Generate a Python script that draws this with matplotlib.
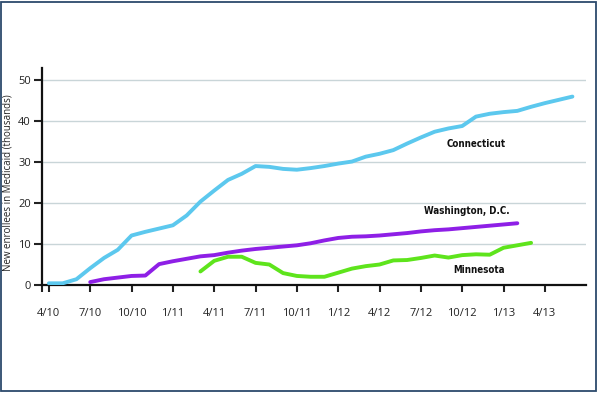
import matplotlib
matplotlib.use("Agg")
import matplotlib.pyplot as plt
from matplotlib.patches import Rectangle

# months counted from 4/10 (index 0)
tick_labels = ["4/10", "7/10", "10/10", "1/11", "4/11", "7/11", "10/11",
               "1/12", "4/12", "7/12", "10/12", "1/13", "4/13"]
tick_months = [0, 3, 6, 9, 12, 15, 18, 21, 24, 27, 30, 33, 36]

ct_start = 0
connecticut = [0.3, 0.3, 1.3, 4.0, 6.5, 8.5, 12.0, 12.9, 13.7, 14.5, 16.9,
               20.3, 23.0, 25.6, 27.1, 29.0, 28.8, 28.3, 28.1, 28.5, 29.0,
               29.6, 30.1, 31.3, 32.0, 32.9, 34.5, 36.0, 37.4, 38.2, 38.8,
               41.1, 41.8, 42.2, 42.5, 43.5, 44.4, 45.2, 46.0]

dc_start = 3
washington = [0.6, 1.3, 1.7, 2.1, 2.2, 5.0, 5.7, 6.3, 6.9, 7.2, 7.8, 8.3,
              8.7, 9.0, 9.3, 9.6, 10.1, 10.8, 11.4, 11.7, 11.8, 12.0, 12.3,
              12.6, 13.0, 13.3, 13.5, 13.8, 14.1, 14.4, 14.7, 15.0]

mn_start = 11
minnesota = [3.2, 5.8, 6.8, 6.8, 5.3, 4.9, 2.8, 2.1, 1.9, 1.9, 2.9, 3.9,
             4.5, 4.9, 5.9, 6.0, 6.5, 7.1, 6.6, 7.2, 7.4, 7.3, 9.0, 9.6, 10.2]

series = [
    ("Connecticut", ct_start, connecticut, "#5cc8ee", (31.0, 34.3)),
    ("Washington, D.C.", dc_start, washington, "#8e1fe6", (30.3, 18.0)),
    ("Minnesota", mn_start, minnesota, "#5ee41c", (31.2, 3.5)),
]

fig = plt.figure(figsize=(6, 3.93), dpi=100)
ax = fig.add_axes([0.07, 0.276, 0.907, 0.551])

for yv in [10, 20, 30, 40, 50]:
    ax.axhline(yv, color="#c9d5d8", lw=1.0, zorder=0)

for name, start, vals, color, (lx, ly) in series:
    xs = [start + i for i in range(len(vals))]
    ax.plot(xs, vals, color=color, lw=2.8, solid_capstyle="round", zorder=3)
    ax.text(lx, ly, name, ha="center", va="center", fontsize=7,
            fontweight="bold", fontstretch="condensed", color="#111111",
            family="DejaVu Sans")

ax.set_xlim(-0.5, 39)
ax.set_ylim(0, 53)
ax.set_xticks(tick_months)
ax.set_xticklabels(tick_labels)
ax.set_yticks([0, 10, 20, 30, 40, 50])
ax.set_xticks([-0.5], minor=True)

for s in ["top", "right"]:
    ax.spines[s].set_visible(False)
for s in ["left", "bottom"]:
    ax.spines[s].set_linewidth(1.6)
    ax.spines[s].set_color("#111111")

ax.tick_params(axis="x", which="both", direction="out", length=5, width=1.5,
               pad=12, labelsize=8, colors="#222222")
ax.tick_params(axis="y", direction="out", length=6, width=1.5,
               pad=2, labelsize=8, colors="#222222")
for lab in ax.get_xticklabels() + ax.get_yticklabels():
    lab.set_family(["Open Sans", "DejaVu Sans"])

fig.text(0.014, 0.535, "New enrollees in Medicaid (thousands)", rotation=90,
         ha="center", va="center", fontsize=7, color="#222222",
         family=["Open Sans", "DejaVu Sans"])

fig.patches.append(Rectangle((0.002, 0.005), 0.991, 0.99,
                             transform=fig.transFigure, fill=False,
                             edgecolor="#2c4a6c", lw=1.3))

fig.savefig("out.png", dpi=100)
